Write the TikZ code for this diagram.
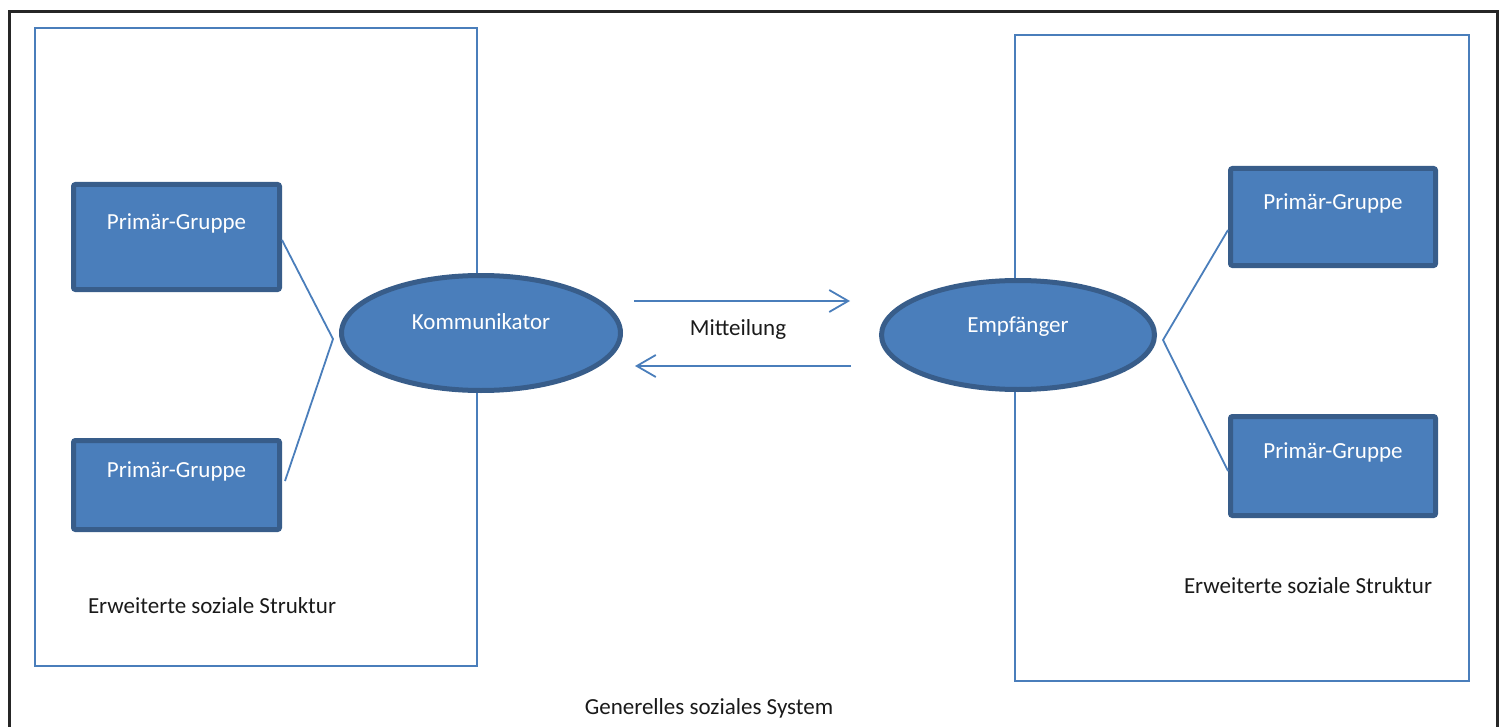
\documentclass[tikz,border=0pt]{standalone}
\usepackage{fontspec}
\setmainfont{Carlito}
\usetikzlibrary{shapes.geometric,arrows.meta}
\definecolor{ofill}{HTML}{4A7EBB}
\definecolor{oedge}{HTML}{385D8A}
\definecolor{oline}{HTML}{4A7EBB}
\definecolor{txt}{HTML}{1A1A1A}
\tikzset{
  every node/.style={font=\fontsize{23}{27}\selectfont},
  bigrect/.style={draw=oline,line width=2.3pt},
  group/.style={rectangle,draw=oedge,fill=ofill,line width=5pt,rounded corners=2pt,inner sep=0pt},
  actor/.style={ellipse,draw=oedge,fill=ofill,line width=5pt,inner sep=0pt},
  inlabel/.style={white,font=\fontsize{23}{27}\selectfont},
  plain/.style={text=txt},
  conn/.style={draw=oline,line width=1.8pt},
  msg/.style={draw=oline,line width=1.8pt,-{Straight Barb[length=19pt,width=22pt,line width=1.8pt]}}
}
\begin{document}
\begin{tikzpicture}[x=1pt,y=-1pt]
\useasboundingbox (0,0) rectangle (1503,727);
% outer frame
\draw[line width=3pt,black!85] (9,740) -- (9,12) -- (1497,12) -- (1497,740);
% extended structures
\draw[bigrect] (35,28) rectangle (477,666);
\draw[bigrect] (1015,35) rectangle (1469,681);
% primary groups
\node[group,minimum width=206pt,minimum height=105pt,label={[inlabel,yshift=14pt]center:Primär-Gruppe}] (p1) at (176.5,237) {};
\node[group,minimum width=206pt,minimum height=89pt,label={[inlabel,yshift=14pt]center:Primär-Gruppe}] (p2) at (176.5,485) {};
\node[group,minimum width=205pt,minimum height=97pt,label={[inlabel,yshift=14pt]center:Primär-Gruppe}] (q1) at (1333,217) {};
\node[group,minimum width=205pt,minimum height=99pt,label={[inlabel,yshift=14pt]center:Primär-Gruppe}] (q2) at (1333,466) {};
% actors
\node[actor,minimum width=279pt,minimum height=115pt,label={[inlabel,yshift=11pt]center:Kommunikator}] (k) at (481,333) {};
\node[actor,minimum width=273pt,minimum height=109pt,label={[inlabel,yshift=8.5pt]center:Empfänger}] (e) at (1018,335) {};
% connectors
\coordinate (lj) at (333,339);
\coordinate (rj) at (1163,340);
\draw[conn] ([yshift=-3pt]p1.east) -- (lj) -- ([xshift=3pt,yshift=4pt]p2.east);
\draw[conn] ([yshift=-13pt]q1.west) -- (rj) -- ([yshift=-5pt]q2.west);
% messages
\coordinate (m1s) at (634,301);
\coordinate (m1e) at (850,301);
\coordinate (m2s) at (851,366);
\coordinate (m2e) at (635,366);
\draw[msg] (m1s) -- (m1e);
\draw[msg] (m2s) -- (m2e);
\node[plain] (mt) at (738,329) {Mitteilung};
% labels
\node[plain] (ls) at (212,606) {Erweiterte soziale Struktur};
\node[plain] (rs) at (1308,586) {Erweiterte soziale Struktur};
\node[plain] (gs) at (709,708) {Generelles soziales System};
\end{tikzpicture}
\end{document}
